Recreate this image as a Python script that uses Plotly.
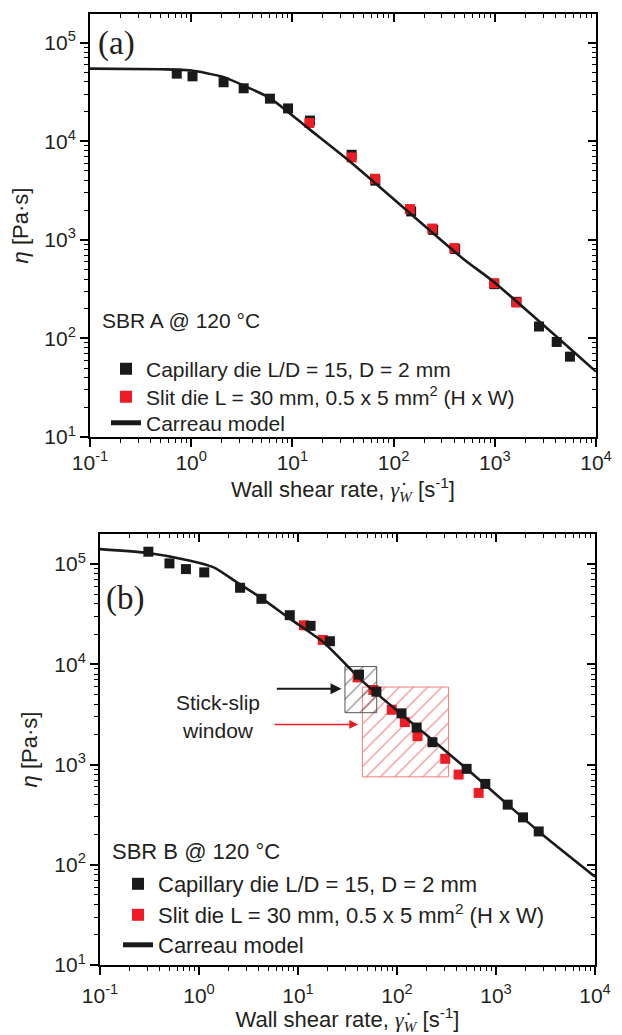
import numpy as np
import plotly.graph_objects as go

# page is drawn with an 8px body margin: figure size = window - 8
W, H = 614, 1027
OFF = 8
TXT = "#231f20"
RED = "#ee1c25"
BLK = "#1a1a1a"

# ---------------- data: panel (a) SBR A ----------------
a_cap_x = [0.72, 1.03, 2.09, 3.3, 6.0, 9.06, 14.9, 38.5, 66, 149, 246, 406, 990, 1630, 2735, 4090, 5530]
a_cap_y = [48400, 45500, 39600, 34400, 27000, 21500, 16200, 7280, 3980, 1940, 1260, 805, 355, 235, 132, 92, 65.3]
a_slit_x = [14.7, 38.5, 65.5, 145, 241, 398, 982, 1645]
a_slit_y = [15300, 6850, 4160, 2050, 1300, 824, 363, 231]
a_model_x = [0.1, 0.5, 0.97, 2.07, 3.53, 6.0, 14.9, 37, 489, 966, 10000]
a_model_y = [54500, 53600, 52400, 44900, 35500, 27400, 13100, 6240, 640, 378, 46]

# ---------------- data: panel (b) SBR B ----------------
b_cap_x = [0.308, 0.503, 0.738, 1.13, 2.60, 4.27, 8.26, 13.4, 21.0, 41.3, 61.9, 111, 158, 228, 505, 780, 1313, 1875, 2700]
b_cap_y = [132800, 101600, 89100, 82600, 58000, 45000, 30900, 24200, 17000, 7890, 5330, 3240, 2340, 1670, 906, 641, 398, 297, 215]
b_slit_x = [11.5, 17.8, 40.0, 57.7, 88.5, 120, 161, 307, 419, 668]
b_slit_y = [24500, 17500, 7400, 5540, 3520, 2650, 1920, 1140, 794, 521]
b_model_x = [0.1, 0.308, 0.815, 1.41, 2.42, 4.27, 8.4, 18.2, 46.5, 188, 505, 2700, 10000]
b_model_y = [141000, 129000, 108000, 92700, 65600, 45700, 28200, 16500, 6560, 2060, 906, 215, 76]

# stick-slip windows (x range, y range)
win_cap_x = [29.8, 62.4]
win_cap_y = [3290, 9490]
win_slit_x = [44.7, 332]
win_slit_y = [753, 5930]

tick_vals_x = [0.1, 1, 10, 100, 1000, 10000]
tick_text_x = ["10<sup>-1</sup>", "10<sup>0</sup>", "10<sup>1</sup>", "10<sup>2</sup>", "10<sup>3</sup>", "10<sup>4</sup>"]
tick_vals_y = [10, 100, 1000, 10000, 100000]
tick_text_y = ["10<sup>1</sup>", "10<sup>2</sup>", "10<sup>3</sup>", "10<sup>4</sup>", "10<sup>5</sup>"]

LEG_CAP = "Capillary die L/D = 15, D = 2 mm"
LEG_SLIT = "Slit die L = 30 mm, 0.5 x 5 mm<sup>2</sup> (H x W)"
LEG_MOD = "Carreau model"


def px(x):
    return (x - OFF) / W


def py(y):
    return 1 - (y - OFF) / H


def rect(xr, yr):
    return [xr[0], xr[1], xr[1], xr[0], xr[0]], [yr[0], yr[0], yr[1], yr[1], yr[0]]


fig = go.Figure()

# ---- panel (a)
fig.add_trace(go.Scatter(x=a_cap_x, y=a_cap_y, mode="markers", name=LEG_CAP,
                         marker=dict(symbol="square", size=10, color=BLK, line=dict(width=0)),
                         xaxis="x", yaxis="y", legend="legend"))
fig.add_trace(go.Scatter(x=a_slit_x, y=a_slit_y, mode="markers", name=LEG_SLIT,
                         marker=dict(symbol="square", size=10, color=RED, line=dict(width=0)),
                         xaxis="x", yaxis="y", legend="legend3"))
fig.add_trace(go.Scatter(x=a_model_x, y=a_model_y, mode="lines", name=LEG_MOD,
                         line=dict(color=BLK, width=2.6, shape="spline", smoothing=0.6),
                         xaxis="x", yaxis="y", legend="legend4"))

# ---- panel (b)
rx, ry = rect(win_slit_x, win_slit_y)
fig.add_trace(go.Scatter(x=rx, y=ry, mode="lines", fill="toself", showlegend=False,
                         line=dict(color="#f07c80", width=1),
                         fillcolor="rgba(0,0,0,0)",
                         fillpattern=dict(shape="/", fgcolor=RED, bgcolor="rgba(0,0,0,0)", size=10, solidity=0.12),
                         xaxis="x2", yaxis="y2", hoverinfo="skip"))
cx, cy = rect(win_cap_x, win_cap_y)
fig.add_trace(go.Scatter(x=cx, y=cy, mode="lines", fill="toself", showlegend=False,
                         line=dict(color="#555555", width=1),
                         fillcolor="rgba(0,0,0,0)",
                         fillpattern=dict(shape="/", fgcolor=BLK, bgcolor="rgba(0,0,0,0)", size=10, solidity=0.12),
                         xaxis="x2", yaxis="y2", hoverinfo="skip"))
fig.add_trace(go.Scatter(x=b_slit_x, y=b_slit_y, mode="markers", name=LEG_SLIT,
                         marker=dict(symbol="square", size=10, color=RED, line=dict(width=0)),
                         xaxis="x2", yaxis="y2", legend="legend5"))
fig.add_trace(go.Scatter(x=b_cap_x, y=b_cap_y, mode="markers", name=LEG_CAP,
                         marker=dict(symbol="square", size=10, color=BLK, line=dict(width=0)),
                         xaxis="x2", yaxis="y2", legend="legend2"))
fig.add_trace(go.Scatter(x=b_model_x, y=b_model_y, mode="lines", name=LEG_MOD,
                         line=dict(color=BLK, width=2.6, shape="spline", smoothing=0.6),
                         xaxis="x2", yaxis="y2", legend="legend6"))

# dummy traces for mirror axes
fig.add_trace(go.Scatter(x=[1], y=[1000], mode="markers", marker=dict(opacity=0), showlegend=False,
                         xaxis="x3", yaxis="y3", hoverinfo="skip"))
fig.add_trace(go.Scatter(x=[1], y=[1000], mode="markers", marker=dict(opacity=0), showlegend=False,
                         xaxis="x4", yaxis="y4", hoverinfo="skip"))

# ---------------- layout ----------------
FONT = "Liberation Sans, Arial, sans-serif"
SERIF = "Liberation Serif"

top_xd = [px(90), px(596)]
top_yd = [py(437), py(14)]
bot_xd = [px(100), px(595)]
bot_yd = [py(965), py(534)]

XR = [-1, 4]
YR_a = [1, 5.29]
YR_b = [1, 5.30]

minor_out = dict(dtick="D1", ticks="outside", ticklen=4, tickwidth=1.3, tickcolor="black", showgrid=False)
minor_in = dict(dtick="D1", ticks="inside", ticklen=4, tickwidth=1.3, tickcolor="black", showgrid=False)

xtitle = ('Wall shear rate, <span style="font-family:Liberation Serif"><i>\u03b3\u0307</i>'
          '<sub><i>W</i></sub></span> [s<sup>-1</sup>]')
ytitle = '<i>\u03b7</i> [Pa\u00b7s]'


def main_x(domain, anchor, lso, tso):
    return dict(type="log", range=XR, domain=domain, anchor=anchor,
                tickmode="array", tickvals=tick_vals_x, ticktext=tick_text_x,
                ticks="outside", ticklen=8, tickwidth=1.5, tickcolor="black",
                minor=minor_out, showgrid=False, zeroline=False,
                showline=True, linecolor="black", linewidth=2,
                tickfont=dict(family=FONT, size=21, color=TXT), ticklabelstandoff=lso,
                title=dict(text=xtitle, font=dict(family=FONT, size=22, color=TXT), standoff=tso),
                automargin=False)


def main_y(domain, anchor, yr):
    return dict(type="log", range=yr, domain=domain, anchor=anchor,
                tickmode="array", tickvals=tick_vals_y, ticktext=tick_text_y,
                ticks="outside", ticklen=8, tickwidth=1.5, tickcolor="black",
                minor=minor_out, showgrid=False, zeroline=False,
                showline=True, linecolor="black", linewidth=2,
                tickfont=dict(family=FONT, size=21, color=TXT),
                title=dict(text=ytitle, font=dict(family=FONT, size=22, color=TXT), standoff=11),
                automargin=False)


def mirror_x(over, anchor):
    return dict(type="log", range=XR, overlaying=over, anchor=anchor, side="top",
                tickmode="array", tickvals=tick_vals_x, showticklabels=False,
                ticks="inside", ticklen=8, tickwidth=1.5, tickcolor="black",
                minor=minor_in, showgrid=False, zeroline=False,
                showline=True, linecolor="black", linewidth=2)


def mirror_y(over, anchor, yr):
    return dict(type="log", range=yr, overlaying=over, anchor=anchor, side="right",
                tickmode="array", tickvals=tick_vals_y, showticklabels=False,
                ticks="inside", ticklen=8, tickwidth=1.5, tickcolor="black",
                minor=minor_in, showgrid=False, zeroline=False,
                showline=True, linecolor="black", linewidth=2)


def leg(xs, ys, size):
    return dict(x=px(xs), y=py(ys), xanchor="left", yanchor="middle",
                bgcolor="rgba(0,0,0,0)", font=dict(family=FONT, size=size, color=TXT),
                itemsizing="constant")


fig.update_layout(
    width=W, height=H,
    margin=dict(l=0, r=0, t=0, b=0),
    paper_bgcolor="white", plot_bgcolor="white",
    font=dict(family=FONT, color=TXT),
    showlegend=True,
    xaxis=main_x(top_xd, "y", -2, 4),
    yaxis=main_y(top_yd, "x", YR_a),
    xaxis2=main_x(bot_xd, "y2", 3, 2),
    yaxis2=main_y(bot_yd, "x2", YR_b),
    xaxis3=mirror_x("x", "y"),
    yaxis3=mirror_y("y", "x", YR_a),
    xaxis4=mirror_x("x2", "y2"),
    yaxis4=mirror_y("y2", "x2", YR_b),
    legend=leg(106, 369, 21),
    legend3=leg(106, 397, 21),
    legend4=leg(106, 423, 21),
    legend2=leg(118, 884, 22),
    legend5=leg(118, 915, 22),
    legend6=leg(118, 945, 22),
)

ann = [
    dict(text="(a)", xref="paper", yref="paper", x=px(96), y=py(43), xanchor="left", yanchor="middle",
         showarrow=False, font=dict(family=SERIF, size=33, color=TXT)),
    dict(text="(b)", xref="paper", yref="paper", x=px(104), y=py(598), xanchor="left", yanchor="middle",
         showarrow=False, font=dict(family=SERIF, size=33, color=TXT)),
    dict(text="SBR A @ 120 \u00b0C", xref="paper", yref="paper", x=px(100), y=py(320),
         xanchor="left", yanchor="middle", showarrow=False, font=dict(family=FONT, size=21, color=TXT)),
    dict(text="SBR B @ 120 \u00b0C", xref="paper", yref="paper", x=px(110), y=py(851),
         xanchor="left", yanchor="middle", showarrow=False, font=dict(family=FONT, size=22, color=TXT)),
    dict(text="Stick-slip", xref="x2", yref="y2", x=np.log10(1.57), y=np.log10(4200),
         xanchor="center", yanchor="middle", showarrow=False, font=dict(family=FONT, size=21, color=TXT)),
    dict(text="window", xref="x2", yref="y2", x=np.log10(1.57), y=np.log10(2190),
         xanchor="center", yanchor="middle", showarrow=False, font=dict(family=FONT, size=21, color=TXT)),
    dict(text="", xref="x2", yref="y2", axref="x2", ayref="y2",
         x=np.log10(27.5), y=np.log10(5710), ax=np.log10(5.9), ay=np.log10(5710),
         showarrow=True, arrowhead=2, arrowsize=1.1, arrowwidth=2, arrowcolor=BLK),
    dict(text="", xref="x2", yref="y2", axref="x2", ayref="y2",
         x=np.log10(40.5), y=np.log10(2510), ax=np.log10(5.6), ay=np.log10(2510),
         showarrow=True, arrowhead=2, arrowsize=1.1, arrowwidth=1.6, arrowcolor=RED),
]
fig.update_layout(annotations=ann)

fig.write_html("out.html")
